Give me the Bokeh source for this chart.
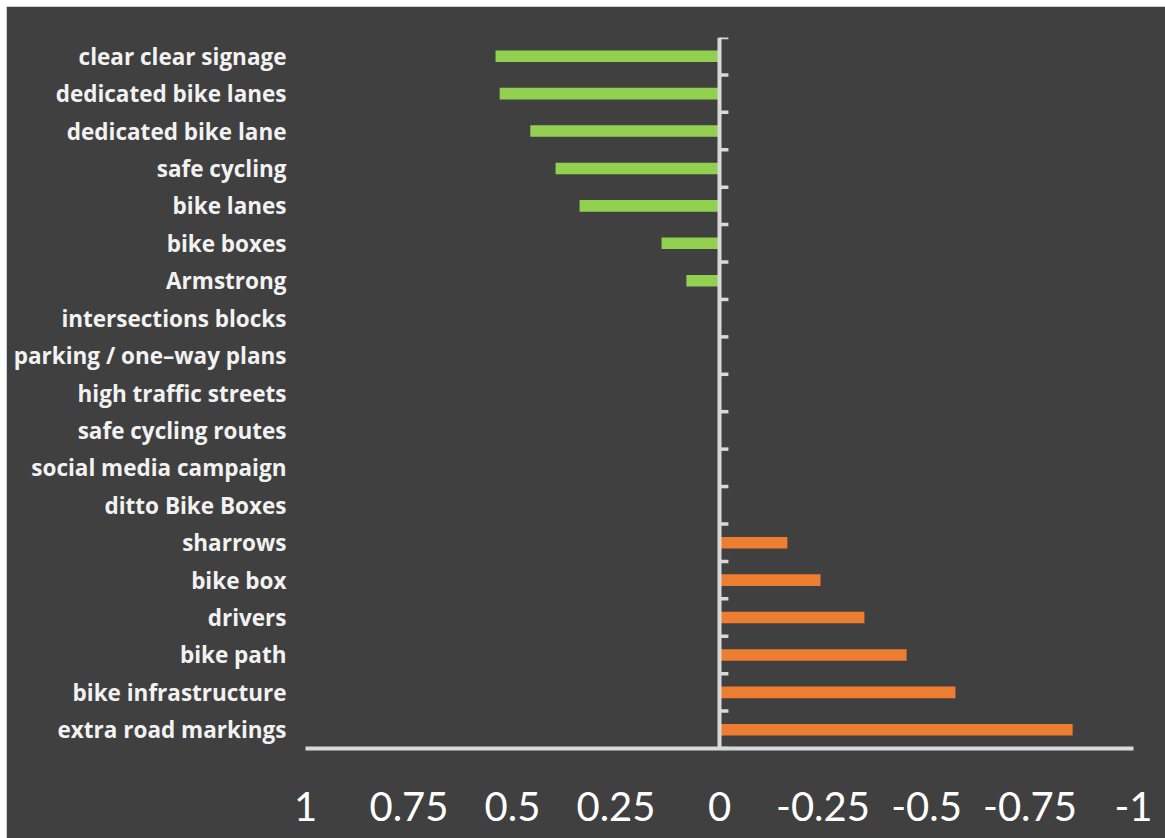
from bokeh.plotting import figure
from bokeh.models import FactorRange, Range1d, FixedTicker, Span, ColumnDataSource
from bokeh.embed import file_html
from bokeh.resources import INLINE

# categories listed top to bottom as in the chart
categories = [
    "clear clear signage", "dedicated bike lanes", "dedicated bike lane", "safe cycling",
    "bike lanes", "bike boxes", "Armstrong", "intersections blocks",
    "parking / one\u2013way plans", "high traffic streets", "safe cycling routes",
    "social media campaign", "ditto Bike Boxes", "sharrows", "bike box", "drivers",
    "bike path", "bike infrastructure", "extra road markings",
]
values = [0.541, 0.531, 0.457, 0.396, 0.338, 0.140, 0.080, 0.0, 0.0, 0.0, 0.0, 0.0, 0.0,
          -0.164, -0.244, -0.350, -0.452, -0.570, -0.853]
tick_values = [1, 0.75, 0.5, 0.25, 0, -0.25, -0.5, -0.75, -1]
tick_labels = ["1", "0.75", "0.5", "0.25", "0", "-0.25", "-0.5", "-0.75", "-1"]

POS = "#92D050"
NEG = "#ED7D31"
BG = "#404040"
AX = "#D9D9D9"

factors = list(reversed(categories))
colors = [POS if v >= 0 else NEG for v in values]
src = ColumnDataSource(dict(cat=categories, val=values, col=colors))

p = figure(width=1159, height=832, output_backend="svg", toolbar_location=None,
           x_range=Range1d(1, -1), y_range=FactorRange(factors=factors),
           background_fill_color=BG, border_fill_color=BG,
           outline_line_color=BG, outline_line_width=3,
           min_border_left=299, min_border_right=32, min_border_top=31, min_border_bottom=90,
           margin=(6, 0, 0, 6))

p.hbar(y="cat", left=0, right="val", height=0.31, fill_color="col", line_color=None, source=src)

# zero axis line with ticks at category boundaries
p.add_layout(Span(location=0, dimension="height", line_color=AX, line_width=4))
bounds = list(range(len(categories) + 1))
p.segment(x0=[0] * len(bounds), x1=[-0.0215] * len(bounds), y0=bounds, y1=bounds,
          line_color=AX, line_width=3.5)

p.xgrid.visible = False
p.ygrid.visible = False

xa = p.xaxis[0]
xa.ticker = FixedTicker(ticks=tick_values)
xa.major_label_overrides = {t: l for t, l in zip(tick_values, tick_labels)}
xa.axis_line_color = AX
xa.axis_line_width = 4
xa.major_tick_line_color = None
xa.minor_tick_line_color = None
xa.major_tick_out = 0
xa.major_tick_in = 0
xa.major_label_standoff = 43
xa.major_label_text_font = "Lato"
xa.major_label_text_font_size = "40px"
xa.major_label_text_color = "#FFFFFF"

ya = p.yaxis[0]
ya.axis_line_color = None
ya.major_tick_line_color = None
ya.minor_tick_line_color = None
ya.major_tick_out = 0
ya.major_tick_in = 0
ya.major_label_standoff = 19
ya.major_label_text_font = "Open Sans"
ya.major_label_text_font_style = "bold"
ya.major_label_text_font_size = "22.5px"
ya.major_label_text_color = "#F2F2F2"

open("out.html", "w").write(file_html(p, INLINE))
